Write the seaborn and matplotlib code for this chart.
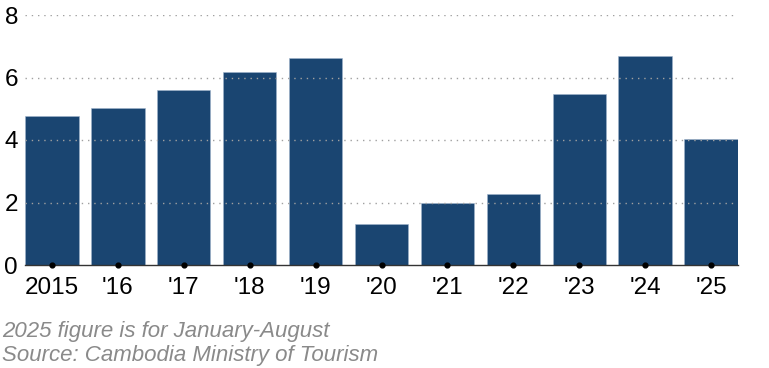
import matplotlib
matplotlib.use("Agg")
import matplotlib.pyplot as plt
import seaborn as sns
import pandas as pd

years = ["2015", "'16", "'17", "'18", "'19", "'20", "'21", "'22", "'23", "'24", "'25"]
visitors = [4.77, 5.01, 5.60, 6.19, 6.61, 1.31, 1.97, 2.27, 5.46, 6.70, 4.03]
yticks = [0, 2, 4, 6, 8]
note_lines = ["2025 figure is for January-August", "Source: Cambodia Ministry of Tourism"]

sns.set_theme(style="white")
plt.rcParams['font.family'] = ['Liberation Sans', 'DejaVu Sans']

df = pd.DataFrame({"year": years, "value": visitors})

fig = plt.figure(figsize=(7.69, 3.68), dpi=100)
ax = fig.add_axes([25/769, 1 - 265/368, (738 - 25)/769, (265 - 15)/368])

sns.barplot(data=df, x="year", y="value", color="#1a4571", saturation=1,
            width=0.81, edgecolor="#9fb4cc", linewidth=0.4, ax=ax, zorder=2)

ax.set_ylim(0, 8)
ax.set_xlim(-0.41, len(years) - 0.59)
ax.set_yticks(yticks)
ax.set_yticklabels([str(t) for t in yticks])
ax.set_xlabel("")
ax.set_ylabel("")

for t in yticks[1:]:
    ax.axhline(t, color="#a0a0a0", linestyle=(0, (1, 3.5)), linewidth=1.0, zorder=3)

for s in ["top", "right", "left"]:
    ax.spines[s].set_visible(False)
ax.spines["bottom"].set_color("#333333")
ax.spines["bottom"].set_linewidth(1.0)
ax.spines["bottom"].set_zorder(4)

ax.scatter(range(len(years)), [0] * len(years), s=12, color="black", zorder=5, clip_on=False)

ax.tick_params(axis="both", length=0, labelsize=17.5, colors="black")
ax.tick_params(axis="x", pad=8.5)
ax.tick_params(axis="y", pad=5)

fig.text(2/769, 1 - 337/368, note_lines[0], fontsize=16, style="italic", color="#8a8a8a", va="baseline")
fig.text(2/769, 1 - 361/368, note_lines[1], fontsize=16, style="italic", color="#8a8a8a", va="baseline")

fig.savefig("out.png", dpi=100)
